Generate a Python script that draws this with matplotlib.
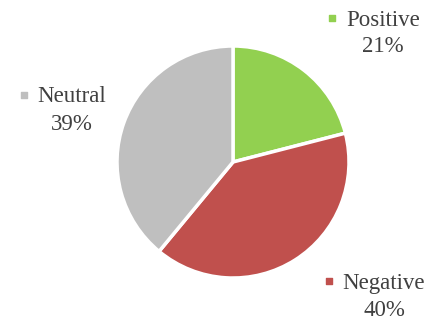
import matplotlib.pyplot as plt

# Dados do gráfico
labels = ['Positive', 'Negative', 'Neutral']
values = [21, 40, 39]
colors = ['#92D050', '#C0504D', '#BFBFBF']

# posição dos rótulos (pixels, origem embaixo à esquerda)
label_pos = [(383, 300), (384, 37), (72, 223)]

fig = plt.figure(figsize=(4.29, 3.2), dpi=100)
ax = fig.add_axes([0, 0, 1, 1])

ax.pie(values, colors=colors, startangle=90, counterclock=False,
       center=(233, 158), radius=116,
       wedgeprops=dict(edgecolor='white', linewidth=2.5))

ax.set_xlim(0, 429)
ax.set_ylim(0, 320)
ax.set_aspect('equal')
ax.axis('off')

font = dict(family='Liberation Serif', size=16.5, color='#404040')
for name, v, c, (x, y) in zip(labels, values, colors, label_pos):
    t = ax.text(x, y, name, ha='center', va='center', **font)
    ax.text(x, y - 27, f'{v}%', ha='center', va='center', **font)
    fig.canvas.draw()
    bb = t.get_window_extent()
    ax.scatter([bb.x0 - 14], [y + 2], marker='s', s=22, color=c)

fig.savefig('out.png', dpi=100)
